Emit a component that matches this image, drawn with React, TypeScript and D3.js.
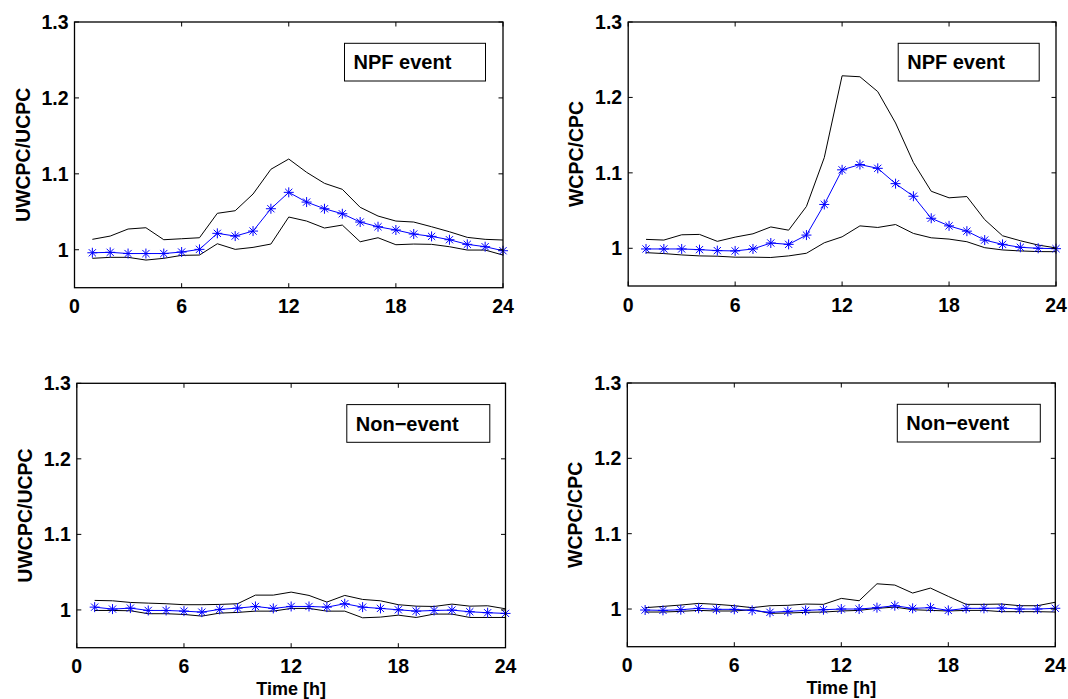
import React from "react";
import * as d3 from "d3";

// ---------- data ----------
const hours = [1, 2, 3, 4, 5, 6, 7, 8, 9, 10, 11, 12, 13, 14, 15, 16, 17, 18, 19, 20, 21, 22, 23, 24];
const xTicks = [0, 6, 12, 18, 24];
const xTickLabels = ["0", "6", "12", "18", "24"];
const yTicks = [1, 1.1, 1.2, 1.3];
const yTickLabels = ["1", "1.1", "1.2", "1.3"];
const yDomain = [0.95, 1.3];

// Panel 1: NPF event, UWCPC/UCPC
const p1Mean = [0.996, 0.9966, 0.995, 0.995, 0.995, 0.997, 1.0005, 1.0216, 1.018, 1.0246, 1.054, 1.0756, 1.0628, 1.054, 1.0474, 1.0365, 1.0303, 1.026, 1.0207, 1.0176, 1.0132, 1.0071, 1.004, 0.9987];
const p1Upper = [1.0137, 1.018, 1.0273, 1.029, 1.0132, 1.0145, 1.0158, 1.048, 1.0514, 1.0734, 1.106, 1.1195, 1.102, 1.0875, 1.0796, 1.0559, 1.0444, 1.0378, 1.0365, 1.0303, 1.0237, 1.0163, 1.0137, 1.0128];
const p1Lower = [0.9887, 0.99, 0.99, 0.9864, 0.9887, 0.9926, 0.993, 1.0079, 1.0005, 1.0031, 1.0075, 1.0431, 1.0378, 1.0286, 1.0325, 1.0105, 1.0158, 1.0066, 1.0075, 1.0071, 1.004, 0.9996, 0.9996, 0.993];

// Panel 2: NPF event, WCPC/CPC
const p2Mean = [0.9991, 0.9991, 0.9991, 0.9982, 0.9969, 0.9965, 0.9991, 1.007, 1.0052, 1.0175, 1.0581, 1.104, 1.111, 1.106, 1.0857, 1.069, 1.0398, 1.0297, 1.0227, 1.0109, 1.0052, 1.0013, 1.0, 0.9995];
const p2Upper = [1.0118, 1.0109, 1.0179, 1.0184, 1.0092, 1.0148, 1.0192, 1.0283, 1.024, 1.0555, 1.1202, 1.2287, 1.2274, 1.2077, 1.1661, 1.1137, 1.0756, 1.0669, 1.0686, 1.038, 1.0166, 1.01, 1.0043, 1.0005];
const p2Lower = [0.9942, 0.993, 0.9912, 0.9899, 0.9895, 0.9882, 0.9882, 0.9878, 0.9899, 0.9934, 1.0073, 1.0152, 1.0297, 1.0276, 1.0315, 1.0197, 1.0139, 1.0122, 1.0087, 1.0008, 0.9978, 0.9965, 0.9956, 0.9955];

// Panel 3: Non-event, UWCPC/UCPC
const p3Mean = [1.0037, 1.0011, 1.0024, 0.9993, 0.9993, 0.9984, 0.9971, 1.0007, 1.0024, 1.0046, 1.002, 1.0046, 1.0046, 1.0037, 1.0082, 1.0037, 1.002, 1.0002, 0.9984, 0.9993, 0.9998, 0.9976, 0.9963, 0.9954];
const p3Upper = [1.0126, 1.0121, 1.0099, 1.009, 1.0082, 1.0069, 1.0069, 1.0073, 1.0082, 1.0196, 1.0196, 1.0236, 1.0192, 1.0104, 1.0192, 1.0139, 1.0121, 1.0069, 1.005, 1.0046, 1.0077, 1.005, 1.0055, 1.0015];
const p3Lower = [0.9993, 0.9993, 0.9989, 0.995, 0.995, 0.994, 0.9918, 0.9958, 0.9967, 0.9984, 0.9984, 1.002, 1.002, 0.9984, 0.9984, 0.9896, 0.9905, 0.9931, 0.99, 0.9945, 0.9945, 0.99, 0.99, 0.99];

// Panel 4: Non-event, WCPC/CPC
const p4Mean = [0.9987, 0.9982, 0.9991, 1.0009, 0.9996, 0.9996, 0.9982, 0.9956, 0.9969, 0.9982, 0.9991, 1.0, 1.0, 1.0018, 1.0044, 1.0009, 1.0018, 0.9982, 1.0009, 1.0009, 1.0013, 1.0, 1.0, 1.001];
const p4Upper = [1.0018, 1.0035, 1.0053, 1.0075, 1.0062, 1.0044, 1.0018, 1.0044, 1.0049, 1.0066, 1.0062, 1.0141, 1.011, 1.0335, 1.0318, 1.0212, 1.0278, 1.0168, 1.0062, 1.0062, 1.0066, 1.0044, 1.0044, 1.009];
const p4Lower = [0.996, 0.996, 0.9969, 0.9982, 0.9974, 0.9974, 0.9991, 0.9943, 0.9947, 0.9956, 0.996, 0.9974, 0.9982, 1.0009, 1.0026, 0.9991, 0.9982, 0.9974, 0.9982, 0.9982, 0.9965, 0.9965, 0.9965, 0.996];

const yLabels = ["UWCPC/UCPC", "WCPC/CPC", "UWCPC/UCPC", "WCPC/CPC"];
const boxLabels = ["NPF event", "NPF event", "Non\u2212event", "Non\u2212event"];
const xLabel = "Time [h]";

// ---------- layout ----------
const panels = [
  { left: 74.5, right: 503, top: 22, bottom: 287.7, mean: p1Mean, upper: p1Upper, lower: p1Lower, boxW: 141, showX: false },
  { left: 628.2, right: 1056, top: 22, bottom: 286, mean: p2Mean, upper: p2Upper, lower: p2Lower, boxW: 141, showX: false },
  { left: 76.8, right: 505.5, top: 383.3, bottom: 647.7, mean: p3Mean, upper: p3Upper, lower: p3Lower, boxW: 143, showX: true },
  { left: 627.3, right: 1055.3, top: 383, bottom: 646.7, mean: p4Mean, upper: p4Upper, lower: p4Lower, boxW: 143, showX: true },
];

const FONT = "'Liberation Sans', Arial, Helvetica, sans-serif";
const BLUE = "#0000ff";
const starPath = "M-5,0H5M0,-5V5M-3.6,-3.6L3.6,3.6M-3.6,3.6L3.6,-3.6";

function Panel({ p, i }: { p: any; i: number }) {
  const x = d3.scaleLinear().domain([0, 24]).range([p.left, p.right]);
  const y = d3.scaleLinear().domain(yDomain).range([p.bottom, p.top]);
  const line = d3
    .line<number>()
    .x((_, k) => x(hours[k]))
    .y((d) => y(d));
  const tick = 4.5;
  const boxLeft = p.left + 270;
  const boxTop = p.top + 21.3;
  const boxH = 37.7;
  return (
    <g>
      <path d={line(p.upper) || ""} fill="none" stroke="#000" strokeWidth={1} />
      <path d={line(p.lower) || ""} fill="none" stroke="#000" strokeWidth={1} />
      <path d={line(p.mean) || ""} fill="none" stroke={BLUE} strokeWidth={1} />
      {p.mean.map((v: number, k: number) => (
        <path key={k} d={starPath} transform={`translate(${x(hours[k])},${y(v)})`} stroke={BLUE} strokeWidth={1} fill="none" />
      ))}
      {/* axes box */}
      <rect x={p.left} y={p.top} width={p.right - p.left} height={p.bottom - p.top} fill="none" stroke="#000" strokeWidth={1.3} />
      {xTicks.map((t, k) => (
        <g key={"xt" + k}>
          <line x1={x(t)} x2={x(t)} y1={p.bottom} y2={p.bottom - tick} stroke="#000" strokeWidth={1} />
          <line x1={x(t)} x2={x(t)} y1={p.top} y2={p.top + tick} stroke="#000" strokeWidth={1} />
          <text x={x(t)} y={p.bottom + 25.5} textAnchor="middle" fontFamily={FONT} fontWeight="bold" fontSize={19.5} fill="#000">
            {xTickLabels[k]}
          </text>
        </g>
      ))}
      {yTicks.map((t, k) => (
        <g key={"yt" + k}>
          <line x1={p.left} x2={p.left + tick} y1={y(t)} y2={y(t)} stroke="#000" strokeWidth={1} />
          <line x1={p.right} x2={p.right - tick} y1={y(t)} y2={y(t)} stroke="#000" strokeWidth={1} />
          <text x={p.left - 6} y={y(t)} dy="0.36em" textAnchor="end" fontFamily={FONT} fontWeight="bold" fontSize={19.5} fill="#000">
            {yTickLabels[k]}
          </text>
        </g>
      ))}
      <text
        transform={`translate(${p.left - 52},${(p.top + p.bottom) / 2}) rotate(-90)`}
        dy="0.36em"
        textAnchor="middle"
        fontFamily={FONT}
        fontWeight="bold"
        fontSize={19.5}
        fill="#000"
      >
        {yLabels[i]}
      </text>
      <rect x={boxLeft} y={boxTop} width={p.boxW} height={boxH} fill="#fff" stroke="#000" strokeWidth={1} />
      <text x={boxLeft + 9} y={boxTop + 26} fontFamily={FONT} fontWeight="bold" fontSize={20} fill="#000">
        {boxLabels[i]}
      </text>
      {p.showX && (
        <text x={(p.left + p.right) / 2} y={p.bottom + 47.5} textAnchor="middle" fontFamily={FONT} fontWeight="bold" fontSize={18} fill="#000">
          {xLabel}
        </text>
      )}
    </g>
  );
}

export default function App() {
  return (
    <svg width={1068} height={699} style={{ position: "absolute", left: 0, top: 0, background: "#fff" }}>
      <rect width={1068} height={699} fill="#fff" />
      {panels.map((p, i) => (
        <Panel key={i} p={p} i={i} />
      ))}
    </svg>
  );
}
